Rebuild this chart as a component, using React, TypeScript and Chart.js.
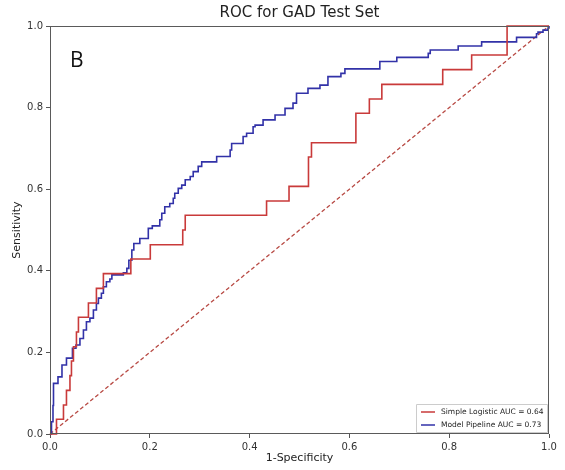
import React, { useEffect, useRef } from 'react';
import { Chart, registerables } from 'chart.js';

Chart.register(...registerables);

// ROC points: x where each rise happens, y after the rise (horizontal then vertical steps)
const logisticFpr = [0, 0.013, 0.027, 0.033, 0.04, 0.043, 0.047, 0.053, 0.057, 0.077, 0.093, 0.107, 0.162, 0.201, 0.266, 0.271, 0.434, 0.479, 0.518, 0.524, 0.613, 0.64, 0.665, 0.787, 0.845, 0.916, 1.0];
const logisticTpr = [0, 0.036, 0.071, 0.107, 0.143, 0.179, 0.214, 0.25, 0.286, 0.321, 0.357, 0.393, 0.429, 0.464, 0.5, 0.536, 0.571, 0.607, 0.679, 0.714, 0.786, 0.821, 0.857, 0.893, 0.929, 1.0, 1.0];

const pipelineFpr = [0, 0.003, 0.006, 0.007, 0.016, 0.024, 0.033, 0.045, 0.052, 0.06, 0.067, 0.073, 0.08, 0.087, 0.093, 0.097, 0.103, 0.107, 0.113, 0.12, 0.124, 0.147, 0.154, 0.158, 0.164, 0.168, 0.18, 0.197, 0.205, 0.22, 0.224, 0.23, 0.24, 0.247, 0.25, 0.257, 0.264, 0.271, 0.281, 0.287, 0.297, 0.304, 0.334, 0.361, 0.364, 0.387, 0.394, 0.407, 0.411, 0.427, 0.451, 0.471, 0.487, 0.494, 0.517, 0.541, 0.557, 0.583, 0.591, 0.661, 0.695, 0.758, 0.762, 0.818, 0.865, 0.935, 0.975, 0.978, 0.988, 0.998, 1.0];
const pipelineTpr = [0, 0.03, 0.07, 0.124, 0.14, 0.169, 0.186, 0.21, 0.218, 0.234, 0.255, 0.275, 0.284, 0.304, 0.32, 0.333, 0.345, 0.361, 0.373, 0.38, 0.39, 0.395, 0.406, 0.426, 0.451, 0.467, 0.479, 0.504, 0.51, 0.525, 0.541, 0.557, 0.565, 0.578, 0.59, 0.602, 0.61, 0.623, 0.631, 0.643, 0.656, 0.667, 0.68, 0.696, 0.712, 0.729, 0.737, 0.753, 0.757, 0.77, 0.782, 0.798, 0.811, 0.835, 0.847, 0.855, 0.876, 0.884, 0.895, 0.913, 0.923, 0.933, 0.941, 0.951, 0.961, 0.972, 0.981, 0.985, 0.99, 0.995, 1.0];

const chanceFpr = [0, 1];
const chanceTpr = [0, 1];

const tickValues = [0, 0.2, 0.4, 0.6, 0.8, 1.0];
const seriesLabels = ['Simple Logistic AUC = 0.64', 'Model Pipeline AUC = 0.73'];
const seriesColors = ['#c93a3a', '#3232a8'];
const chartTitle = 'ROC for GAD Test Set';
const panelLabel = 'B';

const toPoints = (xs: number[], ys: number[]) => xs.map((x, i) => ({ x, y: ys[i] }));

const framePlugin = {
  id: 'frame',
  afterDatasetsDraw(chart: any) {
    const { ctx, chartArea: a } = chart;
    ctx.save();
    ctx.strokeStyle = '#5a5a5a';
    ctx.lineWidth = 1;
    ctx.strokeRect(a.left + 0.5, a.top + 0.5, a.right - a.left - 1, a.bottom - a.top - 1);
    ctx.restore();
  },
};

const panelPlugin = {
  id: 'panelLabel',
  afterDraw(chart: any) {
    const { ctx, scales } = chart;
    ctx.save();
    ctx.fillStyle = '#111';
    ctx.font = '500 21px "Open Sans", "Liberation Sans", sans-serif';
    ctx.textAlign = 'left';
    ctx.textBaseline = 'middle';
    ctx.fillText(panelLabel, scales.x.getPixelForValue(0.04), scales.y.getPixelForValue(0.915));
    ctx.restore();
  },
};

const legendPlugin = {
  id: 'cornerLegend',
  afterDraw(chart: any) {
    const { ctx, chartArea: a } = chart;
    const w = 131;
    const h = 28;
    const x0 = a.right - w - 2;
    const y0 = a.bottom - h - 2;
    ctx.save();
    ctx.fillStyle = 'rgba(255,255,255,0.9)';
    ctx.strokeStyle = '#cccccc';
    ctx.lineWidth = 1;
    ctx.beginPath();
    ctx.rect(x0 + 0.5, y0 + 0.5, w, h);
    ctx.fill();
    ctx.stroke();
    ctx.font = '7.5px "DejaVu Sans", sans-serif';
    ctx.textBaseline = 'middle';
    ctx.fillStyle = '#222';
    seriesLabels.forEach((label, i) => {
      const yy = y0 + 8 + i * 13;
      ctx.strokeStyle = seriesColors[i];
      ctx.lineWidth = 1.5;
      ctx.beginPath();
      ctx.moveTo(x0 + 5, yy);
      ctx.lineTo(x0 + 19, yy);
      ctx.stroke();
      ctx.fillText(label, x0 + 25, yy);
    });
    ctx.restore();
  },
};

export default function App() {
  const canvasRef = useRef<HTMLCanvasElement | null>(null);

  useEffect(() => {
    if (!canvasRef.current) return;
    const tickCfg = {
      color: '#333',
      font: { size: 10, family: '"DejaVu Sans", sans-serif' },
      padding: 3,
      autoSkip: false,
      maxRotation: 0,
      callback: (v: any) => Number(v).toFixed(1),
    };
    const gridCfg = {
      display: true,
      drawOnChartArea: false,
      drawTicks: true,
      tickLength: 4,
      color: '#555',
    };
    const chart = new Chart(canvasRef.current, {
      type: 'line',
      data: {
        datasets: [
          {
            label: seriesLabels[0],
            data: toPoints(logisticFpr, logisticTpr),
            borderColor: seriesColors[0],
            borderWidth: 1.6,
            pointRadius: 0,
            stepped: 'before',
            fill: false,
            clip: 4,
          },
          {
            label: seriesLabels[1],
            data: toPoints(pipelineFpr, pipelineTpr),
            borderColor: seriesColors[1],
            borderWidth: 1.6,
            pointRadius: 0,
            stepped: 'before',
            fill: false,
            clip: 4,
          },
          {
            label: 'Chance',
            data: toPoints(chanceFpr, chanceTpr),
            borderColor: '#b84a44',
            borderWidth: 1.3,
            borderDash: [4, 2.5],
            pointRadius: 0,
            fill: false,
            clip: 4,
          },
        ],
      } as any,
      options: {
        animation: false,
        responsive: true,
        maintainAspectRatio: false,
        parsing: false as any,
        layout: { padding: { left: 8, right: 16, top: 0, bottom: 0 } },
        plugins: {
          legend: { display: false },
          tooltip: { enabled: false },
          title: {
            display: true,
            fullSize: false,
            text: chartTitle,
            color: '#222',
            font: { size: 15, weight: 'normal', family: '"DejaVu Sans", sans-serif' },
            padding: { top: 4, bottom: 4 },
          },
        },
        scales: {
          x: {
            type: 'linear',
            min: 0,
            max: 1,
            afterBuildTicks: (s: any) => {
              s.ticks = tickValues.map((v) => ({ value: v }));
            },
            afterFit: (s: any) => {
              s.height = 36;
            },
            ticks: tickCfg,
            grid: gridCfg,
            border: { display: false },
            title: {
              display: true,
              text: '1-Specificity',
              color: '#222',
              font: { size: 11, family: '"DejaVu Sans", sans-serif' },
              padding: { top: 0, bottom: 5 },
            },
          },
          y: {
            type: 'linear',
            min: 0,
            max: 1,
            afterBuildTicks: (s: any) => {
              s.ticks = tickValues.map((v) => ({ value: v }));
            },
            afterFit: (s: any) => {
              s.width = 42;
            },
            ticks: tickCfg,
            grid: gridCfg,
            border: { display: false },
            title: {
              display: true,
              text: 'Sensitivity',
              color: '#222',
              font: { size: 11, family: '"DejaVu Sans", sans-serif' },
              padding: { top: 3, bottom: 0 },
            },
          },
        },
      } as any,
      plugins: [framePlugin, panelPlugin, legendPlugin],
    });
    return () => chart.destroy();
  }, []);

  return (
    <div style={{ position: 'fixed', left: 0, top: 0, width: 565, height: 470, background: '#fff' }}>
      <canvas ref={canvasRef} />
    </div>
  );
}
